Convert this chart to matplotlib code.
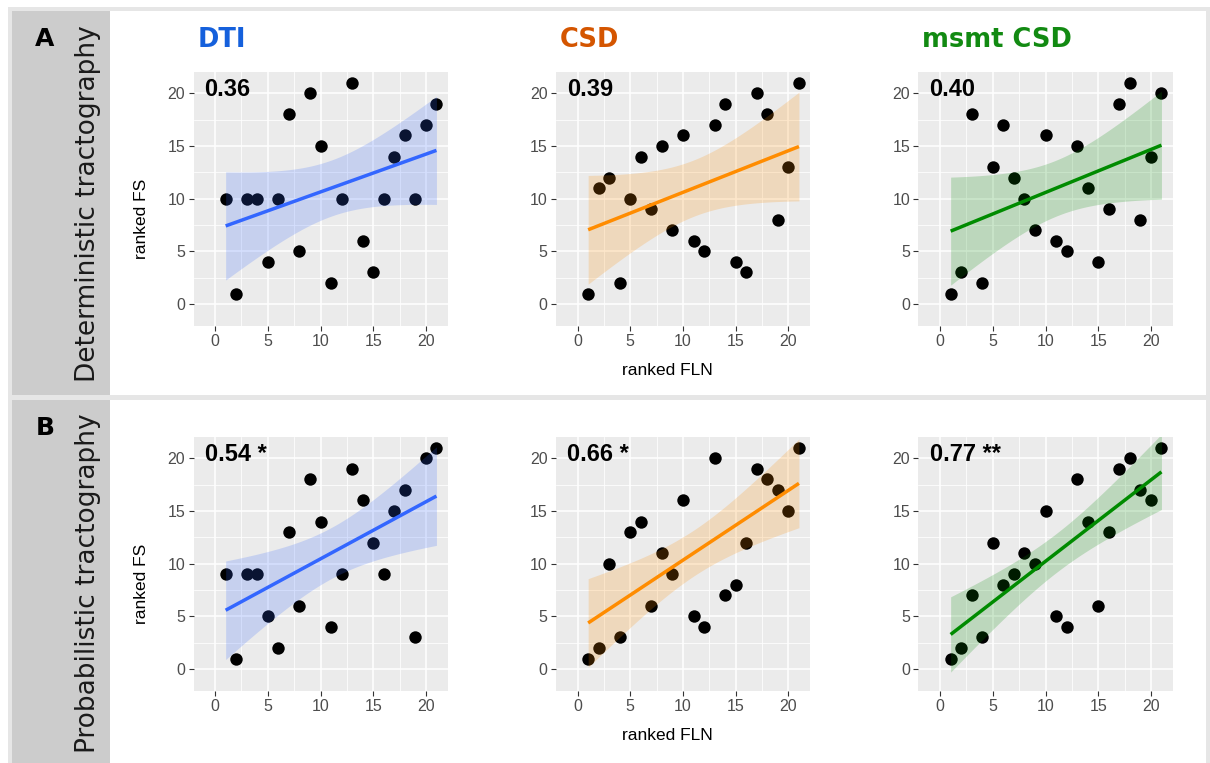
import numpy as np
import matplotlib
matplotlib.use("Agg")
import matplotlib.pyplot as plt
from matplotlib.patches import Rectangle

# ---------------- data ----------------
ranked_fln = list(range(1, 22))

det_dti  = [10, 1, 10, 10, 4, 10, 18, 5, 20, 15, 2, 10, 21, 6, 3, 10, 14, 16, 10, 17, 19]
det_csd  = [1, 11, 12, 2, 10, 14, 9, 15, 7, 16, 6, 5, 17, 19, 4, 3, 20, 18, 8, 13, 21]
det_msmt = [1, 3, 18, 2, 13, 17, 12, 10, 7, 16, 6, 5, 15, 11, 4, 9, 19, 21, 8, 14, 20]

prob_dti  = [9, 1, 9, 9, 5, 2, 13, 6, 18, 14, 4, 9, 19, 16, 12, 9, 15, 17, 3, 20, 21]
prob_csd  = [1, 2, 10, 3, 13, 14, 6, 11, 9, 16, 5, 4, 20, 7, 8, 12, 19, 18, 17, 15, 21]
prob_msmt = [1, 2, 7, 3, 12, 8, 9, 11, 10, 15, 5, 4, 18, 14, 6, 13, 19, 20, 17, 16, 21]

methods = ["DTI", "CSD", "msmt CSD"]
rows = ["Deterministic tractography", "Probabilistic tractography"]
row_tags = ["A", "B"]
corr_labels = [["0.36", "0.39", "0.40"], ["0.54 *", "0.66 *", "0.77 **"]]
series = [[det_dti, det_csd, det_msmt], [prob_dti, prob_csd, prob_msmt]]
ticks = [0, 5, 10, 15, 20]

title_colors = ["#1560DC", "#D45500", "#128A12"]
line_colors = ["#3366FF", "#FF8C00", "#008B00"]

# ---------------- figure ----------------
W, H = 1210, 763
fig = plt.figure(figsize=(W / 100, H / 100), dpi=100)
fig.patch.set_facecolor("white")

def rect(l, t, w, h):
    return [l / W, 1 - (t + h) / H, w / W, h / H]

# background frame
bg = fig.add_axes([0, 0, 1, 1], zorder=-10)
bg.set_xlim(0, W); bg.set_ylim(H, 0); bg.axis("off")
bg.add_patch(Rectangle((8, 7), W - 8, H - 7, color="#E6E6E6", lw=0))
row_bounds = [(11, 395), (400, H)]
for (t, b) in row_bounds:
    bg.add_patch(Rectangle((12, t), 98, b - t, color="#CCCCCC", lw=0))
    bg.add_patch(Rectangle((110, t), W - 4 - 110, b - t, color="white", lw=0))

row_label_centres = [204, 583]
for r, (t, b) in enumerate(row_bounds):
    bg.text(45, t + 28, row_tags[r], fontsize=18, fontweight="bold",
            ha="center", va="center", family="DejaVu Sans")
    bg.text(88, row_label_centres[r], rows[r], fontsize=19, rotation=90,
            ha="center", va="center", family="DejaVu Sans", color="#1A1A1A")

panel_lefts = [193.5, 556, 918.5]
panel_tops = [71.7, 436.7]
PW, PH = 254, 254
tcrit = 2.093  # t quantile, df = 19

for r in range(2):
    for c in range(3):
        ax = fig.add_axes(rect(panel_lefts[c], panel_tops[r], PW, PH))
        x = np.array(ranked_fln, dtype=float)
        y = np.array(series[r][c], dtype=float)
        ax.set_facecolor("#EBEBEB")
        ax.set_xlim(-2.05, 22.05)
        ax.set_ylim(-2.05, 22.05)
        for s in ax.spines.values():
            s.set_visible(False)
        for v in ticks:
            ax.axvline(v, color="white", lw=1.1, zorder=1)
            ax.axhline(v, color="white", lw=1.1, zorder=1)
        for v in [2.5, 7.5, 12.5, 17.5]:
            ax.axvline(v, color="white", lw=0.55, zorder=1)
            ax.axhline(v, color="white", lw=0.55, zorder=1)
        ax.set_xticks(ticks)
        ax.set_yticks(ticks)
        ax.tick_params(length=3.5, width=0.8, color="#333333", labelcolor="#4D4D4D",
                       labelsize=11.5, pad=2.5)
        for lab in ax.get_xticklabels() + ax.get_yticklabels():
            lab.set_family("Liberation Sans")

        ax.scatter(x, y, s=80, color="black", zorder=3, lw=0)

        # linear fit with 95% CI
        b1, b0 = np.polyfit(x, y, 1)
        xs = np.linspace(x.min(), x.max(), 80)
        yhat = b0 + b1 * xs
        resid = y - (b0 + b1 * x)
        n = len(x)
        s2 = np.sum(resid ** 2) / (n - 2)
        se = np.sqrt(s2 * (1 / n + (xs - x.mean()) ** 2 / np.sum((x - x.mean()) ** 2)))
        ax.fill_between(xs, yhat - tcrit * se, yhat + tcrit * se,
                        color=line_colors[c], alpha=0.2, lw=0, zorder=4)
        ax.plot(xs, yhat, color=line_colors[c], lw=2.5, zorder=5, solid_capstyle="butt")

        ax.text(-1.0, 20.4, corr_labels[r][c], fontsize=17, fontweight="bold",
                ha="left", va="center", family="Liberation Sans", zorder=6)

        if c == 0:
            ax.set_ylabel("ranked FS", fontsize=12.5, family="Liberation Sans",
                          color="black")
            ax.yaxis.set_label_coords(-0.175, 0.42)
        if c == 1:
            ax.set_xlabel("ranked FLN", fontsize=12.5, family="Liberation Sans",
                          color="black")
            ax.xaxis.set_label_coords(0.44, -0.145)
        if r == 0:
            fig.text((panel_lefts[c] + 4) / W, 1 - 40 / H, methods[c],
                     fontsize=18.5, fontweight="bold", color=title_colors[c],
                     ha="left", va="center", family="DejaVu Sans")

fig.savefig("out.png", dpi=100)
